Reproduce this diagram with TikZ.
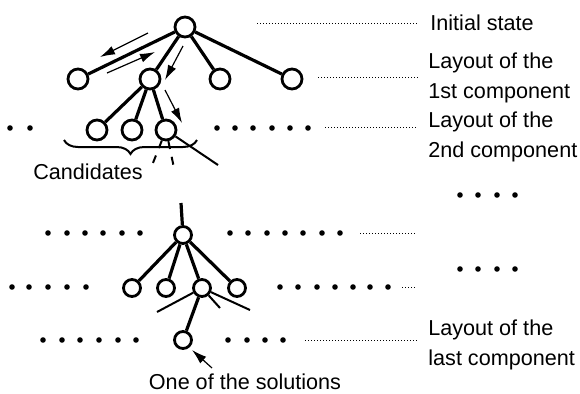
\documentclass[tikz,border=0pt]{standalone}
\usepackage{fontspec}
\setmainfont{Liberation Sans}
\usetikzlibrary{arrows.meta,decorations.pathreplacing}

\begin{document}
\begin{tikzpicture}[x=0.5pt,y=-0.5pt,
		knot/.style={circle,draw,line width=1.4pt,fill=white,inner sep=0pt,minimum size=#1},
		knot/.default=10pt,
		edge/.style={line width=1.6pt},
		twig/.style={line width=1pt},
		leader/.style={densely dotted,line width=0.5pt},
		pointer/.style={line width=0.6pt,-{Latex[length=7.5pt,width=4.5pt]}},
		lab/.style={font=\fontsize{10.8}{15}\selectfont,align=left,anchor=west,inner sep=0pt}]
		
		\useasboundingbox (0,0) rectangle (580,393);
		
		%obere baum
		\node[knot] (r) at (185,27) {};
		\foreach \x [count=\i] in {78,150,220,292}
		\node[knot] (a\i) at (\x,79) {};
		\foreach \x [count=\i] in {97,132,166}
		\node[knot] (b\i) at (\x,130) {};
		
		\foreach \i in {1,...,4}
		\draw[edge] (r) -- (a\i);
		\foreach \i in {1,2,3}
		\draw[edge] (a2) -- (b\i);
		
		%suchrichtung
		\coordinate (u1) at (148,33);
		\coordinate (u2) at (100,57);
		\coordinate (u3) at (107,73);
		\coordinate (u4) at (155,52);
		\coordinate (u5) at (183,46);
		\coordinate (u6) at (165,80);
		\coordinate (u7) at (165,90);
		\coordinate (u8) at (182,123);
		\draw[pointer] (u1) -- (u2);
		\draw[pointer] (u3) -- (u4);
		\draw[pointer] (u5) -- (u6);
		\draw[pointer] (u7) -- (u8);
		
		%kandidaten
		\coordinate (t1) at (151,168);
		\coordinate (t2) at (174,168);
		\coordinate (t3) at (218,165);
		\draw[twig,dash pattern=on 4pt off 4pt] (b3) -- (t1);
		\draw[twig,dash pattern=on 4pt off 4pt] (b3) -- (t2);
		\draw[twig] (b3) -- (t3);
		\draw[decorate,decoration={brace,mirror,amplitude=7pt},line width=1pt] (64,140) -- (197,140);
		\node[font=\fontsize{10.8}{15}\selectfont] (cand) at (88,172) {Candidates};
		
		%untere baum
		\coordinate (s0) at (181,203);
		\node[knot=8.5pt] (p) at (183,235) {};
		\foreach \x [count=\i] in {132,166,202,237}
		\node[knot=8.5pt] (c\i) at (\x,288) {};
		\node[knot=8.5pt] (sol) at (183,340) {};
		
		\draw[edge] (s0) -- (p);
		\foreach \i in {1,...,4}
		\draw[edge] (p) -- (c\i);
		\draw[edge] (c3) -- (sol);
		
		\coordinate (o1) at (157,312);
		\coordinate (o2) at (250,310);
		\coordinate (o3) at (220,308);
		\draw[twig] (o1) -- (c3) -- (o2);
		\draw[twig] (c3) -- (o3);
		
		\coordinate (w1) at (212,368);
		\coordinate (w2) at (192,350);
		\draw[pointer] (w1) -- (w2);
		\node[font=\fontsize{10.8}{15}\selectfont] (one) at (245,382) {One of the solutions};
		
		%punkte
		\foreach \x in {10,30,217,235,253,272,290,308}
		\fill (\x,128) circle (2.8);
		\foreach \x in {48,67,85,103,122,140,230,248,267,285,303,322,340}
		\fill (\x,233) circle (2.8);
		\foreach \x in {12,29,48,67,86,280,298,317,335,353,370,388}
		\fill (\x,287) circle (2.8);
		\foreach \x in {43,62,80,99,118,136,228,247,265,283}
		\fill (\x,340) circle (2.8);
		\foreach \x in {460,478,497,515}
		{\fill (\x,195) circle (2.8);
			\fill (\x,269) circle (2.8);}
		
		%beschriftung
		\node[lab] (l0) at (430,23) {Initial state};
		\node[lab] (l1) at (428,78) {Layout of the\\1st component};
		\node[lab] (l2) at (428,137) {Layout of the\\2nd component};
		\node[lab] (l3) at (428,345) {Layout of the\\last component};
		
		\coordinate (e0) at (257,23);
		\coordinate (e1) at (318,77);
		\coordinate (e2) at (325,127);
		\coordinate (e3) at (305,340);
		\coordinate (e4) at (360,233);
		\coordinate (f4) at (417,233);
		\coordinate (e5) at (402,287);
		\coordinate (f5) at (415,287);
		\draw[leader,shorten >=6pt] (e0) -- (e0 -| l0.west);
		\draw[leader,shorten >=5pt] (e1) -- (e1 -| l1.west);
		\draw[leader,shorten >=5pt] (e2) -- (e2 -| l2.west);
		\draw[leader,shorten >=5pt] (e3) -- (e3 -| l3.west);
		\draw[leader] (e4) -- (f4);
		\draw[leader] (e5) -- (f5);
		
	\end{tikzpicture}
\end{document}
